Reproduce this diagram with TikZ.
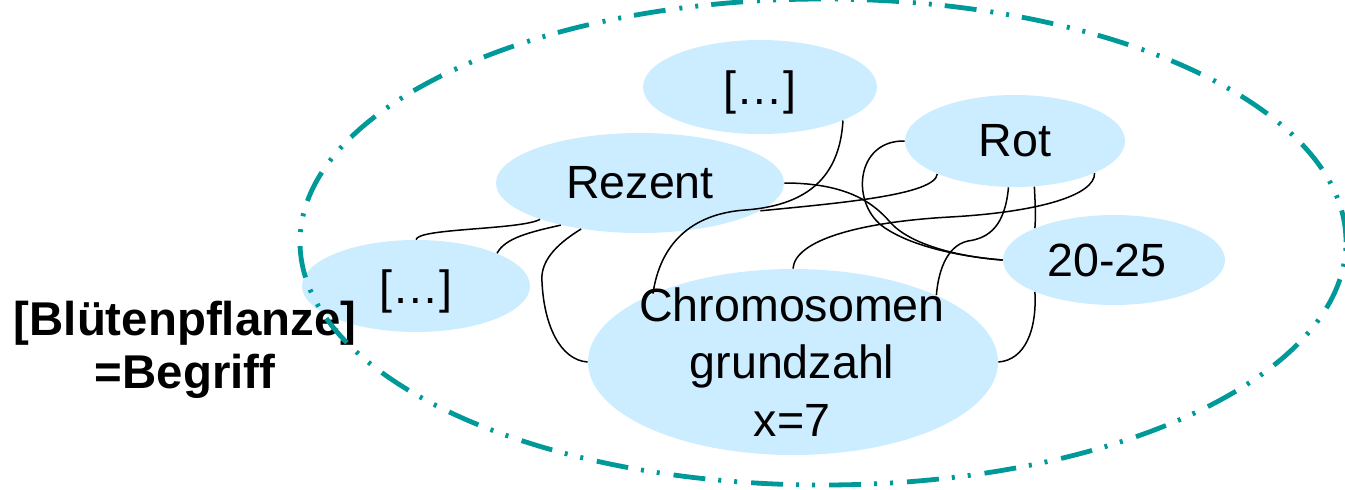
\documentclass[tikz,border=0pt]{standalone}
\usepackage{fontspec}
\setmainfont{Liberation Sans}
\usetikzlibrary{shapes.geometric}
\definecolor{blobfill}{HTML}{CCECFF}
\definecolor{ringteal}{HTML}{009999}
\begin{document}
\begin{tikzpicture}[x=0.5pt,y=-0.5pt,
  blob/.style={ellipse, fill=blobfill, draw=none, inner sep=0pt},
  txt/.style={font=\fontsize{23.3}{28.75}\selectfont, inner sep=0pt, align=center},
  lbl/.style={font=\fontsize{23.7}{26.5}\selectfont\bfseries, inner sep=0pt, align=center},
  link/.style={draw=black, line width=0.75pt},
  ring/.style={draw=ringteal, line width=2.4pt, dash pattern=on 16pt off 6.5pt on 1.5pt off 6.5pt on 1.5pt off 7pt}]
\useasboundingbox (0,0) rectangle (1345,489);
% ellipses
\node[blob, minimum width=117pt, minimum height=47pt] (topdots) at (760,87) {};
\node[blob, minimum width=144pt, minimum height=50pt] (rezent) at (640,183) {};
\node[blob, minimum width=110pt, minimum height=46pt] (rot) at (1015,141) {};
\node[blob, minimum width=111pt, minimum height=45pt] (zwanzig) at (1114,260) {};
\node[blob, minimum width=114pt, minimum height=46pt] (leftdots) at (416,286) {};
\node[blob, minimum width=205pt, minimum height=93pt] (chromo) at (793,362) {};
% connectors
\draw[link] (topdots.-22) .. controls (840,170) and (815,205) .. (745,210) .. controls (690,214) and (660,245) .. (chromo.154);
\draw[link] (rezent.east) .. controls (850,183) and (875,205) .. (890,222) .. controls (910,245) and (960,257) .. (zwanzig.west);
\draw[link] (rot.west) .. controls (855,140) and (850,205) .. (885,228) .. controls (915,248) and (965,257) .. (zwanzig.west);
\draw[link] (rot.203) .. controls (935,195) and (840,203) .. (rezent.-13);
\draw[link] (rot.262) .. controls (1005,225) and (990,238) .. (968,241) .. controls (945,246) and (938,275) .. (chromo.25);
\draw[link] (rot.-67) .. controls (1035,200) and (1036,215) .. (zwanzig.158);
\draw[link] (rot.-22) .. controls (1095,195) and (1040,212) .. (950,217) .. controls (860,222) and (795,240) .. (chromo.90);
\draw[link] (zwanzig.202) .. controls (1037,330) and (1025,360) .. (chromo.east);
\draw[link] (leftdots.north) .. controls (418,228) and (520,230) .. (rezent.200);
\draw[link] (leftdots.22) .. controls (505,238) and (530,232) .. (rezent.208);
\draw[link] (rezent.218) .. controls (555,245) and (540,262) .. (542,282) .. controls (544,325) and (560,360) .. (chromo.west);
% texts
\node[txt] (topdotstxt) at (760,92) {[…]};
\node[txt] (rezenttxt) at (640,183) {Rezent};
\node[txt] (rottxt) at (1015,141) {Rot};
\node[txt] (zwanzigtxt) at (1107,260) {20-25};
\node[txt] (leftdotstxt) at (416,291) {[…]};
\node[txt] (chromotxt) at (792,362) {Chromosomen\\grundzahl\\x=7};
\node[lbl] (begriff) at (185,350) {[Blütenpflanze]\\=Begriff};
% dashed boundary
\draw[ring] (823,242) ellipse [x radius=261.5pt, y radius=121.5pt];
\end{tikzpicture}
\end{document}
